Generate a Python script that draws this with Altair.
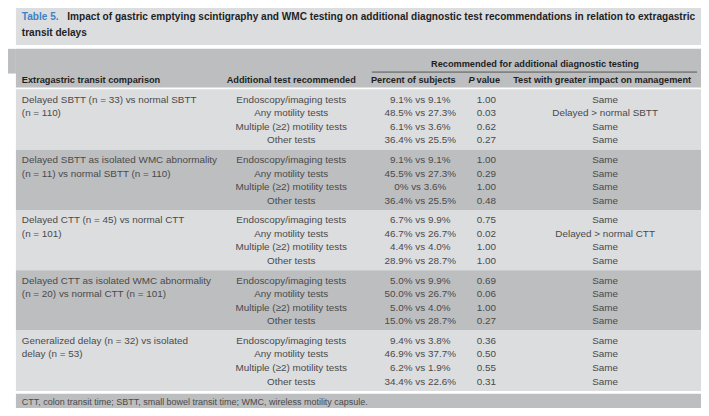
import altair as alt
import pandas as pd

# ---------------- data ----------------
title_label = "Table 5."
title_line1 = ("Impact of gastric emptying scintigraphy and WMC testing on additional "
               "diagnostic test recommendations in relation to extragastric")
title_line2 = "transit delays"

spanner = "Recommended for additional diagnostic testing"
col_headers = ["Extragastric transit comparison", "Additional test recommended",
               "Percent of subjects", "value", "Test with greater impact on management"]

comparisons = [
    ["Delayed SBTT (n = 33) vs normal SBTT", "(n = 110)"],
    ["Delayed SBTT as isolated WMC abnormality", "(n = 11) vs normal SBTT (n = 110)"],
    ["Delayed CTT (n = 45) vs normal CTT", "(n = 101)"],
    ["Delayed CTT as isolated WMC abnormality", "(n = 20) vs normal CTT (n = 101)"],
    ["Generalized delay (n = 32) vs isolated", "delay (n = 53)"],
]
tests = ["Endoscopy/imaging tests", "Any motility tests",
         "Multiple (\u22652) motility tests", "Other tests"]
percents = [
    "9.1% vs 9.1%", "48.5% vs 27.3%", "6.1% vs 3.6%", "36.4% vs 25.5%",
    "9.1% vs 9.1%", "45.5% vs 27.3%", "0% vs 3.6%", "36.4% vs 25.5%",
    "6.7% vs 9.9%", "46.7% vs 26.7%", "4.4% vs 4.0%", "28.9% vs 28.7%",
    "5.0% vs 9.9%", "50.0% vs 26.7%", "5.0% vs 4.0%", "15.0% vs 28.7%",
    "9.4% vs 3.8%", "46.9% vs 37.7%", "6.2% vs 1.9%", "34.4% vs 22.6%",
]
pvalues = [
    "1.00", "0.03", "0.62", "0.27",
    "1.00", "0.29", "1.00", "0.48",
    "0.75", "0.02", "1.00", "1.00",
    "0.69", "0.06", "1.00", "0.27",
    "0.36", "0.50", "0.55", "0.31",
]
impact = [
    "Same", "Delayed > normal SBTT", "Same", "Same",
    "Same", "Same", "Same", "Same",
    "Same", "Delayed > normal CTT", "Same", "Same",
    "Same", "Same", "Same", "Same",
    "Same", "Same", "Same", "Same",
]
footnote = ("CTT, colon transit time; SBTT, small bowel transit time; "
            "WMC, wireless motility capsule.")

# ---------------- layout ----------------
FONT = "Liberation Sans, Arial, sans-serif"
LIGHT = "#dcdddf"
DARK = "#bdbec0"
TXT = "#4a4a4a"
HEAD = "#1f1f1f"
BLUE = "#3d82c4"

GROUP_TOP = 88
GROUP_H = 61
LINE0 = 10.5
LINE_H = 13.7
X_COMP, X_TEST, X_PCT, X_P, X_IMP = 22, 294.5, 425, 492, 612

XS = alt.Scale(domain=[8, 709], range=[0, 701])
YS = alt.Scale(domain=[8, 408], range=[0, 400])


def enc_xy(ch):
    return ch.encode(x=alt.X("x:Q", scale=XS, axis=None),
                     y=alt.Y("y:Q", scale=YS, axis=None))


def text_layer(rows, **kw):
    df = pd.DataFrame(rows, columns=["x", "y", "t"])
    base = alt.Chart(df).mark_text(font=FONT, **kw)
    return enc_xy(base).encode(text="t:N")


# background bands
bands = [
    (16, 709, 0, 43, LIGHT),            # title box
    (16, 709, 47, 86, DARK),            # header band
    (0, 16, 47, 72, DARK),              # left tab
]
for g in range(len(comparisons)):
    top = GROUP_TOP + GROUP_H * g
    bands.append((16, 709, top, top + GROUP_H, LIGHT if g % 2 == 0 else DARK))
bands.append((16, 709, 396, 416, DARK))  # footnote band
band_df = pd.DataFrame(bands, columns=["x", "x2", "y", "y2", "fill"])
rects = alt.Chart(band_df).mark_rect(stroke=None).encode(
    x=alt.X("x:Q", scale=XS, axis=None), x2="x2:Q",
    y=alt.Y("y:Q", scale=YS, axis=None), y2="y2:Q",
    color=alt.Color("fill:N", scale=None),
)

# spanner underline
rule_df = pd.DataFrame([{"x": 376, "x2": 705, "y": 70.5}])
rule = alt.Chart(rule_df).mark_rule(color="#555555", strokeWidth=1).encode(
    x=alt.X("x:Q", scale=XS, axis=None), x2="x2:Q",
    y=alt.Y("y:Q", scale=YS, axis=None),
)

# title
TS = 10.2
title_blue = text_layer([(22, 15, title_label)], align="left", baseline="middle",
                        fontSize=TS, fontWeight="bold", color=BLUE)
title_rest = text_layer([(68, 15, title_line1), (22, 31, title_line2)], align="left",
                        baseline="middle", fontSize=TS, fontWeight="bold", color=HEAD)

# headers
HS = 9.3
head_center = text_layer(
    [(541, 62, spanner), (X_TEST, 79, col_headers[1]), (418, 79, col_headers[2]),
     (609, 79, col_headers[4])],
    align="center", baseline="middle", fontSize=HS, fontWeight="bold", color=HEAD)
head_left = text_layer([(X_COMP, 79, col_headers[0]), (482, 79, col_headers[3])],
                       align="left", baseline="middle", fontSize=HS,
                       fontWeight="bold", color=HEAD)
head_p = text_layer([(480, 79, "P")], align="right", baseline="middle", fontSize=HS,
                    fontWeight="bold", fontStyle="italic", color=HEAD)

# body
left_rows, center_rows = [], []
for g, comp in enumerate(comparisons):
    top = GROUP_TOP + GROUP_H * g + LINE0
    for k, line in enumerate(comp):
        left_rows.append((X_COMP, top + LINE_H * k, line))
    for k in range(4):
        i = g * 4 + k
        y = top + LINE_H * k
        center_rows.append((X_TEST, y, tests[k]))
        center_rows.append((X_PCT, y, percents[i]))
        center_rows.append((X_P, y, pvalues[i]))
        center_rows.append((X_IMP, y, impact[i]))

body_left = text_layer(left_rows, align="left", baseline="middle", fontSize=10, color=TXT)
body_center = text_layer(center_rows, align="center", baseline="middle", fontSize=10,
                         color=TXT)
foot = text_layer([(22, 404, footnote)], align="left", baseline="middle",
                  fontSize=9.1, color=TXT)

chart = alt.layer(
    rects, rule, title_blue, title_rest, head_center, head_left, head_p,
    body_left, body_center, foot,
).properties(
    width=701, height=400, padding=0, autosize="none", background="white"
).configure_view(stroke=None)

chart.save("out.html", embed_options={"renderer": "svg", "actions": False})
